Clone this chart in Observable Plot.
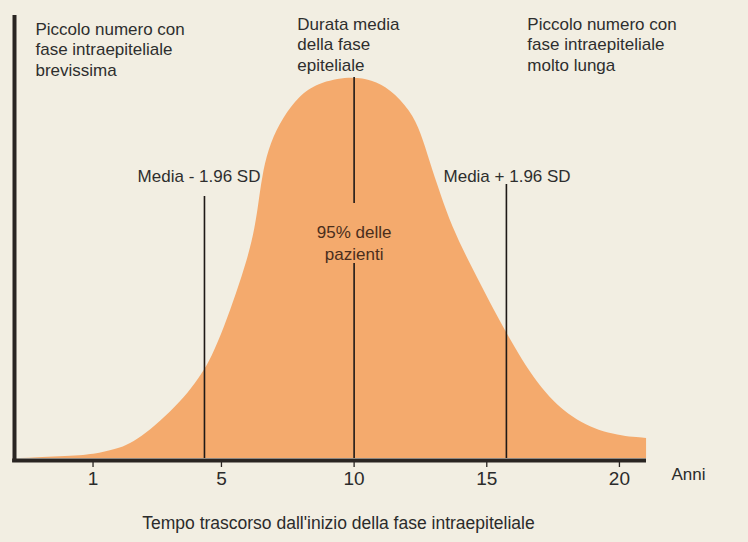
<!DOCTYPE html>
<html>
<head>
<meta charset="utf-8">
<script src="https://cdn.jsdelivr.net/npm/d3@7"></script>
<script src="https://cdn.jsdelivr.net/npm/@observablehq/plot@0.6"></script>
<style>
  html, body { margin: 0; padding: 0; background: #f2eee2; }
  #chart { width: 748px; height: 542px; }
</style>
</head>
<body>
<div id="chart"></div>
<script>
// Curve (years since start of intraepithelial phase vs relative frequency)
const curveX = [-2.575, -0.501, 0.441, 1.195, 1.685, 2.326, 3.080, 3.761, 4.289, 4.628, 5.118, 5.570, 5.985, 6.284, 6.435, 6.586, 6.850, 7.340, 7.942, 8.621, 9.864,
                10.693, 11.372, 12.126, 12.541, 12.843, 13.257, 13.709, 14.313, 14.954, 15.632, 16.198, 16.763, 17.404, 17.894, 18.610, 19.213, 19.967, 20.532, 21.022];
const curveY = [0, 2, 5, 10, 16, 28, 46, 65, 85, 100, 131, 165, 198, 231, 260, 288, 315, 341, 362, 375, 382,
                378, 369, 348, 325, 298, 265, 231, 198, 165, 131, 105, 81, 60, 48, 35, 28, 23, 21, 20];

// Reference lines (mean - 1.96 SD, mean, mean + 1.96 SD), as segments
const lineX  = [4.36, 10, 10, 15.74];
const lineY1 = [0, 0, 255, 0];
const lineY2 = [262, 195, 381, 274];

// Axis ticks
const tickValues = [0.16, 5, 10, 15, 20];
const tickLabels = ["1", "5", "10", "15", "20"];

// Annotations
const noteText = [
  "Piccolo numero con\nfase intraepiteliale\nbrevissima",
  "Durata media\ndella fase\nepiteliale",
  "Piccolo numero con\nfase intraepiteliale\nmolto lunga",
  "Media - 1.96 SD",
  "Media + 1.96 SD"
];
const noteX = [-2.01, 7.86, 16.53, 1.84, 13.37];
const noteY = [438, 443, 443, 291, 291];

const curve = curveX.map((x, i) => ({x, y: curveY[i]}));
const lines = lineX.map((x, i) => ({x, y1: lineY1[i], y2: lineY2[i]}));
const ticks = tickValues.map((x, i) => ({x, label: tickLabels[i]}));
const notes = noteText.map((t, i) => ({t, x: noteX[i], y: noteY[i]}));

const ink = "#2a2522";
const font = "Liberation Sans, Arial, Helvetica, sans-serif";

const chart = Plot.plot({
  width: 748,
  height: 542,
  marginLeft: 14,
  marginRight: 102,
  marginTop: 15,
  marginBottom: 84,
  x: {domain: [-2.8, 21.02], axis: null},
  y: {domain: [0, 443], axis: null},
  style: {background: "transparent", fontFamily: font},
  marks: [
    Plot.areaY(curve, {x: "x", y: "y", fill: "#f4aa6d", curve: "basis"}),
    Plot.ruleX(lines, {x: "x", y1: "y1", y2: "y2", stroke: "#1e1916", strokeWidth: 1.6}),
    // axes
    Plot.ruleY([-2], {x1: -2.87, x2: 21.02, stroke: ink, strokeWidth: 4}),
    Plot.ruleX([-2.8], {y1: -4, y2: 443, stroke: ink, strokeWidth: 4}),
    Plot.ruleX(ticks, {x: "x", y1: -4, y2: -9, stroke: ink, strokeWidth: 1.3}),
    Plot.text(ticks, {x: "x", y: -20, text: "label", fontSize: 19, fill: "#2b2b2b"}),
    Plot.text(["Anni"], {x: 22.6, y: -16, text: d => d, fontSize: 17, fill: "#2b2b2b"}),
    Plot.text(["Tempo trascorso dall'inizio della fase intraepiteliale"], {x: 9.41, y: -65, text: d => d, fontSize: 17.5, fill: "#2b2b2b"}),
    // annotations
    Plot.text(notes, {x: "x", y: "y", text: "t", textAnchor: "start", lineAnchor: "top", lineHeight: 1.2, fontSize: 17, fill: "#2e2e2e"}),
    Plot.text(["95% delle\npazienti"], {x: 10, y: 236, text: d => d, lineAnchor: "top", lineHeight: 1.28, fontSize: 17, fill: "#4a2e1c"})
  ]
});
document.getElementById("chart").appendChild(chart);
</script>
</body>
</html>
